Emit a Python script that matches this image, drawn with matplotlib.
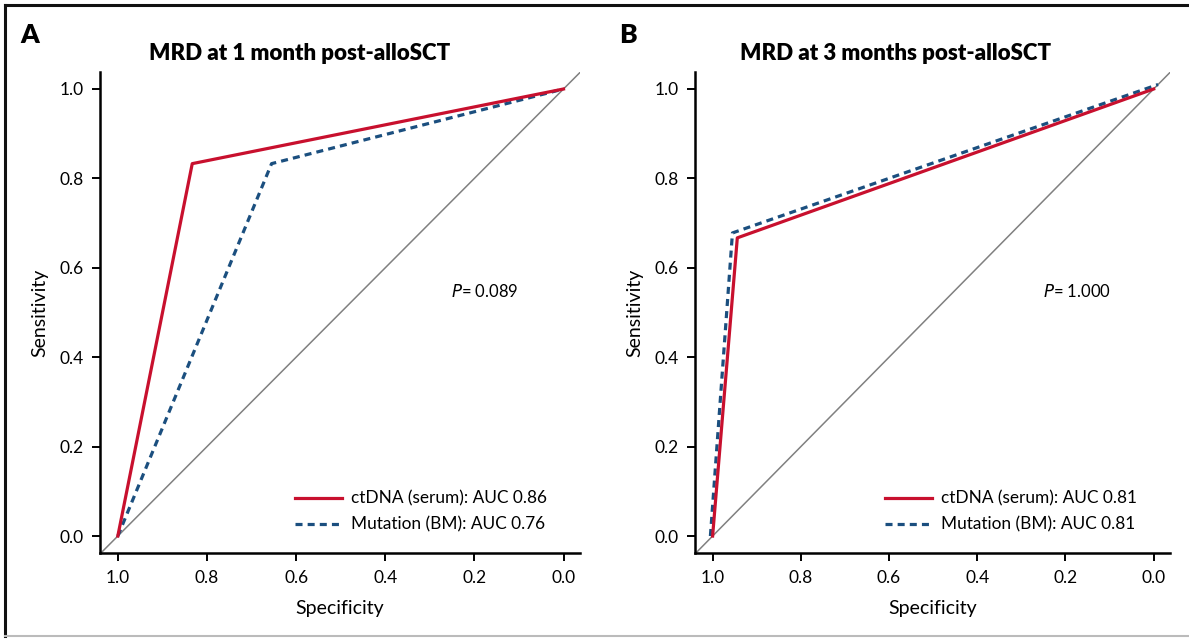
import numpy as np
import matplotlib.pyplot as plt
from matplotlib.lines import Line2D

# ROC points (specificity, sensitivity)
spec_ct_1m = [1.0, 0.833, 0.0]
sens_ct_1m = [0.0, 0.833, 1.0]
spec_bm_1m = [1.0, 0.655, 0.0]
sens_bm_1m = [0.0, 0.833, 1.0]

spec_ct_3m = [1.0, 0.944, 0.0]
sens_ct_3m = [0.0, 0.667, 1.0]
spec_bm_3m = [1.005, 0.955, -0.01]
sens_bm_3m = [0.0, 0.678, 1.01]

titles = ['MRD at 1 month post-alloSCT', 'MRD at 3 months post-alloSCT']
letters = ['A', 'B']
labels_ct = ['ctDNA (serum): AUC 0.86', 'ctDNA (serum): AUC 0.81']
labels_bm = ['Mutation (BM): AUC 0.76', 'Mutation (BM): AUC 0.81']
pvals = ['0.089', '1.000']
ticks = [1.0, 0.8, 0.6, 0.4, 0.2, 0.0]

red = '#C8102E'
blue = '#1B4F7F'

plt.rcParams['font.family'] = ['Lato', 'DejaVu Sans']

fig = plt.figure(figsize=(11.89, 6.40), dpi=100)
ax1 = fig.add_axes([0.0841, 0.1359, 0.4037, 0.7516])
ax2 = fig.add_axes([0.5845, 0.1359, 0.3995, 0.7516])

data = [(spec_ct_1m, sens_ct_1m, spec_bm_1m, sens_bm_1m),
        (spec_ct_3m, sens_ct_3m, spec_bm_3m, sens_bm_3m)]
title_x = [0.415, 0.423]

for i, ax in enumerate([ax1, ax2]):
    sc, ss, bc, bs = data[i]
    ax.plot([1.1, -0.1], [-0.1, 1.1], color='#808080', lw=1.1, zorder=1)
    ax.plot(sc, ss, color=red, lw=2.3, label=labels_ct[i], zorder=3)
    ax.plot(bc, bs, color=blue, lw=2.3, ls=(0, (2.2, 1.6)), label=labels_bm[i], zorder=2)
    ax.set_xlim(1.04, -0.037)
    ax.set_ylim(-0.038, 1.038)
    ax.set_xticks(ticks)
    ax.set_xticklabels(['%.1f' % t for t in ticks])
    ax.set_yticks(ticks)
    ax.set_yticklabels(['%.1f' % t for t in ticks])
    for s in ['top', 'right']:
        ax.spines[s].set_visible(False)
    for s in ['left', 'bottom']:
        ax.spines[s].set_linewidth(1.8)
    ax.tick_params(width=1.4, length=6, labelsize=12.5, pad=6)
    ax.set_xlabel('Specificity', fontsize=14, fontstretch='condensed', labelpad=10)
    ax.set_ylabel('Sensitivity', fontsize=14, fontstretch='condensed', labelpad=8)
    ax.text(title_x[i], 1.025, titles[i], transform=ax.transAxes, fontsize=16,
            fontweight='heavy', ha='center', va='baseline')
    ax.text(0.252, 0.546, r'$\it{P}$= ' + pvals[i], fontsize=12, va='center', ha='left')
    ax.legend(loc='lower right', frameon=False, fontsize=12.4, handlelength=2.75,
              handletextpad=0.5, labelspacing=0.58, borderaxespad=0.0,
              bbox_to_anchor=(0.945, 0.028))

fig.text(0.017, 0.945, 'A', fontsize=19, fontweight='heavy', va='center')
fig.text(0.521, 0.945, 'B', fontsize=19, fontweight='heavy', va='center')

# figure frame
fig.add_artist(Line2D([0.004, 1.0], [0.992, 0.992], color='#111111', lw=2.2, transform=fig.transFigure))
fig.add_artist(Line2D([0.0045, 0.0045], [0.006, 0.992], color='#111111', lw=2.2, transform=fig.transFigure))
fig.add_artist(Line2D([0.004, 1.0], [0.006, 0.006], color='#bbbbbb', lw=1.5, transform=fig.transFigure))

fig.savefig('out.png', dpi=100)
